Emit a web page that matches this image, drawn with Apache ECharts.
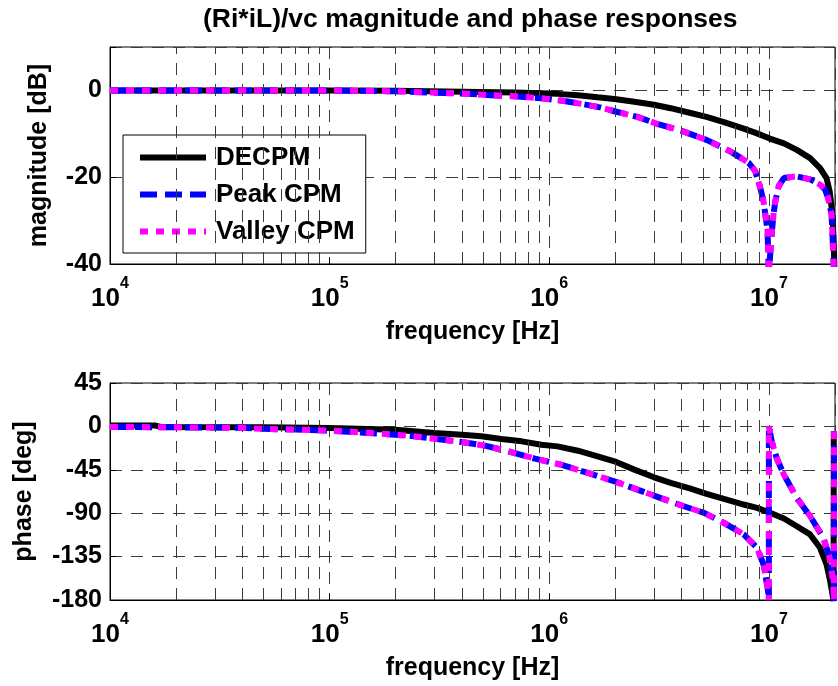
<!DOCTYPE html>
<html><head><meta charset="utf-8">
<script src="https://cdn.jsdelivr.net/npm/echarts@6/dist/echarts.min.js"></script>
<style>html,body{margin:0;padding:0;background:#fff}#c{width:838px;height:686px}</style>
</head><body><div id="c"></div>
<script>
const FONT = "'Liberation Sans', Arial, Helvetica, sans-serif";
const titleText = '(Ri*iL)/vc magnitude and phase responses';
const seriesNames = ['DECPM', 'Peak CPM', 'Valley CPM'];
const xMin = 1e4, xMax = 2e7;

// ---- magnitude [dB] ----
const magFreqDE = [1e4, 1e5, 2e5, 4e5, 7e5, 1.09e6, 1.35e6, 1.66e6, 1.98e6, 2.44e6, 3.0e6, 3.57e6, 4.4e6, 5.2e6, 6.24e6, 7.68e6, 8.83e6, 1.01e7, 1.17e7, 1.34e7, 1.54e7, 1.71e7, 1.83e7, 1.89e7, 1.94e7, 1.97e7, 1.99e7];
const magDE     = [0, 0, -0.1, -0.3, -0.5, -0.8, -1.1, -1.6, -2.0, -2.6, -3.3, -4.1, -5.2, -6.1, -7.3, -8.8, -9.9, -11.1, -12.2, -13.7, -15.6, -17.9, -20.2, -23.2, -27.7, -33.8, -42];

const magFreqPeak = [1e4, 1e5, 2e5, 2.8e5, 4e5, 5.4e5, 7.2e5, 9.2e5, 1.15e6, 1.4e6, 1.7e6, 1.98e6, 2.52e6, 3.1e6, 4.1e6, 5.2e6, 6.7e6, 8.1e6, 8.67e6, 9.13e6, 9.45e6, 9.86e6, 1.0e7, 1.03e7, 1.05e7, 1.07e7, 1.11e7, 1.17e7, 1.34e7, 1.54e7, 1.71e7, 1.80e7, 1.86e7, 1.93e7, 1.98e7];
const magPeak     = [0, 0, -0.2, -0.5, -0.7, -1.1, -1.4, -1.8, -2.4, -3.1, -3.9, -4.8, -6.1, -7.7, -9.5, -11.4, -14.1, -16.7, -18.6, -22.4, -25.5, -32.3, -42, -33, -28.5, -25.5, -22, -20.2, -19.8, -20.5, -21.7, -22.8, -24.7, -28.5, -42];

const magFreqValley = [1e4, 1e5, 2e5, 2.8e5, 4e5, 5.4e5, 7.2e5, 9.2e5, 1.15e6, 1.4e6, 1.7e6, 1.98e6, 2.52e6, 3.1e6, 4.1e6, 5.2e6, 6.7e6, 8.1e6, 8.67e6, 9.13e6, 9.45e6, 9.86e6, 1.0e7, 1.03e7, 1.05e7, 1.07e7, 1.11e7, 1.17e7, 1.34e7, 1.54e7, 1.71e7, 1.80e7, 1.86e7, 1.93e7, 1.98e7];
const magValley     = [0, 0, -0.2, -0.5, -0.7, -1.1, -1.4, -1.8, -2.4, -3.1, -3.9, -4.8, -6.1, -7.7, -9.5, -11.4, -14.1, -16.7, -18.6, -22.4, -25.5, -32.3, -42, -33, -28.5, -25.5, -22, -20.2, -19.8, -20.5, -21.7, -22.8, -24.7, -28.5, -42];

// ---- phase [deg] ----
const phFreqDE = [1e4, 1.6e4, 1.7e4, 5e4, 1e5, 2e5, 3e5, 4e5, 4.9e5, 6.06e5, 7.5e5, 9.2e5, 1.09e6, 1.35e6, 1.66e6, 1.98e6, 2.44e6, 3.0e6, 3.57e6, 4.4e6, 5.2e6, 6.24e6, 7.68e6, 8.83e6, 1.0e7, 1.17e7, 1.34e7, 1.54e7, 1.71e7, 1.83e7, 1.9e7, 1.96e7, 1.97e7, 1.975e7];
const phDE     = [1, 1, -0.5, -1, -1.7, -3.4, -6.9, -8.6, -10.3, -13.1, -15.5, -19, -20.7, -25.2, -31, -36.2, -44.8, -52.8, -58.6, -64.5, -70, -75.2, -81, -84.5, -89, -95.5, -103.5, -112, -125.9, -143, -160, -177.6, -181, -5];

const phFreqPeak = [1e4, 4e4, 5e4, 7e4, 1.03e5, 1.35e5, 1.73e5, 2.29e5, 3.0e5, 4.0e5, 5.1e5, 6.5e5, 8.6e5, 1.13e6, 1.5e6, 1.98e6, 2.52e6, 3.2e6, 4.1e6, 5.07e6, 6.24e6, 7.68e6, 8.83e6, 9.45e6, 9.86e6, 9.97e6, 1.0e7, 1.0e7, 1.03e7, 1.085e7, 1.17e7, 1.34e7, 1.54e7, 1.77e7, 1.89e7, 1.96e7, 1.98e7, 1.98e7];
const phPeak     = [-0.5, -1.5, -2.5, -3.3, -4.5, -6.2, -7.6, -9.7, -12.8, -16.2, -20, -25.9, -33.4, -39.7, -48.3, -56.9, -65.5, -74.1, -82.8, -89.7, -100, -112, -125.9, -143, -167, -176, -180, 0, -15.5, -32.8, -50, -74.1, -93, -115.5, -136, -160, -181, -5];

const phFreqValley = [1e4, 4e4, 5e4, 7e4, 1.03e5, 1.35e5, 1.73e5, 2.29e5, 3.0e5, 4.0e5, 5.1e5, 6.5e5, 8.6e5, 1.13e6, 1.5e6, 1.98e6, 2.52e6, 3.2e6, 4.1e6, 5.07e6, 6.24e6, 7.68e6, 8.83e6, 9.45e6, 9.86e6, 9.97e6, 1.0e7, 1.0e7, 1.03e7, 1.085e7, 1.17e7, 1.34e7, 1.54e7, 1.77e7, 1.89e7, 1.96e7, 1.98e7, 1.98e7];
const phValley     = [-0.5, -1.5, -2.5, -3.3, -4.5, -6.2, -7.6, -9.7, -12.8, -16.2, -20, -25.9, -33.4, -39.7, -48.3, -56.9, -65.5, -74.1, -82.8, -89.7, -100, -112, -125.9, -143, -167, -176, -180, 0, -15.5, -32.8, -50, -74.1, -93, -115.5, -136, -160, -181, -5];

// minor grid positions (2..9 x decade)
const mantissas = [2, 3, 4, 5, 6, 7, 8, 9];
const decades = [1e4, 1e5, 1e6];

const zip = (xs, ys) => xs.map((x, i) => [x, ys[i]]);
const minorFreqs = [];
decades.forEach(d => mantissas.forEach(m => minorFreqs.push(m * d)));

const GRID_COLOR = '#3a3a3a';
const GRID_DASH = [12, 9];

function fmtDecade(v) {
  const e = Math.log10(v);
  const r = Math.round(e);
  if (Math.abs(e - r) > 1e-6) return '';
  return '{b|10}{s|' + r + '}';
}

function xAxisCfg(gi) {
  return {
    type: 'log', logBase: 10, min: xMin, max: xMax, gridIndex: gi,
    axisLine: { show: true, onZero: false, lineStyle: { color: '#000', width: 1 } },
    axisTick: { show: true, inside: true, length: 6, lineStyle: { color: '#000' } },
    splitLine: { show: true, lineStyle: { color: GRID_COLOR, type: GRID_DASH, width: 1 } },
    axisLabel: {
      formatter: fmtDecade, margin: 22, color: '#000', fontFamily: FONT,
      rich: {
        b: { fontSize: 26, fontWeight: 'bold', fontFamily: FONT, color: '#000', lineHeight: 26, verticalAlign: 'bottom' },
        s: { fontSize: 16, fontWeight: 'bold', fontFamily: FONT, color: '#000', lineHeight: 16, padding: [0, 0, 20, 0], verticalAlign: 'bottom' }
      }
    },
    name: 'frequency [Hz]', nameLocation: 'middle', nameGap: 56,
    nameTextStyle: { fontSize: 25, fontWeight: 'bold', color: '#000', fontFamily: FONT }
  };
}

function yAxisCfg(gi, min, max, interval, name, gap, hideMax) {
  return {
    type: 'value', gridIndex: gi, min: min, max: max, interval: interval,
    axisLine: { show: true, lineStyle: { color: '#000', width: 1 } },
    axisTick: { show: true, inside: true, length: 6, lineStyle: { color: '#000' } },
    splitLine: { show: true, lineStyle: { color: GRID_COLOR, type: GRID_DASH, width: 1 } },
    axisLabel: {
      formatter: v => (hideMax && v === max) ? '' : String(v),
      fontSize: 25, fontWeight: 'bold', color: '#000', fontFamily: FONT, margin: 8
    },
    name: name, nameLocation: 'middle', nameRotate: 90, nameGap: gap,
    nameTextStyle: { fontSize: 25, fontWeight: 'bold', color: '#000', fontFamily: FONT }
  };
}

const styles = [
  { color: '#000000', width: 6, type: 'solid' },
  { color: '#0000ff', width: 6, type: [17, 8] },
  { color: '#ff00ff', width: 6, type: [8, 8] }
];

function lineSeries(idx, gi, data) {
  return {
    name: seriesNames[idx], type: 'line', xAxisIndex: gi, yAxisIndex: gi,
    data: data, symbol: 'none', showSymbol: false, smooth: false, z: 3 + idx,
    clip: true, animation: false,
    lineStyle: { color: styles[idx].color, width: styles[idx].width, type: styles[idx].type, cap: 'butt' },
    itemStyle: { color: styles[idx].color }
  };
}

function gridLineSeries(gi) {
  return {
    type: 'line', xAxisIndex: gi, yAxisIndex: gi, data: [], z: 1, silent: true, animation: false,
    markLine: {
      silent: true, symbol: ['none', 'none'], animation: false,
      label: { show: false },
      lineStyle: { color: GRID_COLOR, type: GRID_DASH, width: 1 },
      emphasis: { disabled: true },
      data: minorFreqs.map(f => ({ xAxis: f }))
    }
  };
}

const chart = echarts.init(document.getElementById('c'), null, { renderer: 'canvas' });
chart.setOption({
  animation: false,
  backgroundColor: '#fff',
  title: {
    text: titleText, left: 203, top: 6, padding: 0,
    textStyle: { fontSize: 26.5, fontWeight: 'bold', color: '#000', fontFamily: FONT }
  },
  legend: {
    orient: 'vertical', left: 123, top: 135, data: seriesNames,
    itemWidth: 66, itemHeight: 14, itemGap: 10, padding: [9, 11, 8, 14],
    backgroundColor: '#fff', borderColor: '#000', borderWidth: 1, borderRadius: 0,
    selectedMode: false,
    itemStyle: { opacity: 0 },
    lineStyle: { width: 'inherit', type: 'inherit', color: 'inherit' },
    textStyle: { fontSize: 26, fontWeight: 'bold', color: '#000', fontFamily: FONT, lineHeight: 27, padding: [0, 0, 0, 5] }
  },
  grid: [
    { left: 110, top: 47, right: 0, height: 217, show: true, borderColor: '#000', borderWidth: 1, containLabel: false },
    { left: 110, top: 383, right: 0, height: 217, show: true, borderColor: '#000', borderWidth: 1, containLabel: false }
  ],
  xAxis: [xAxisCfg(0), xAxisCfg(1)],
  yAxis: [
    yAxisCfg(0, -40, 10, 20, 'magnitude [dB]', 58, true),
    yAxisCfg(1, -180, 45, 45, 'phase [deg]', 73, false)
  ],
  series: [
    gridLineSeries(0), gridLineSeries(1),
    lineSeries(0, 0, zip(magFreqDE, magDE)),
    lineSeries(1, 0, zip(magFreqPeak, magPeak)),
    lineSeries(2, 0, zip(magFreqValley, magValley)),
    lineSeries(0, 1, zip(phFreqDE, phDE)),
    lineSeries(1, 1, zip(phFreqPeak, phPeak)),
    lineSeries(2, 1, zip(phFreqValley, phValley))
  ]
});
</script></body></html>
